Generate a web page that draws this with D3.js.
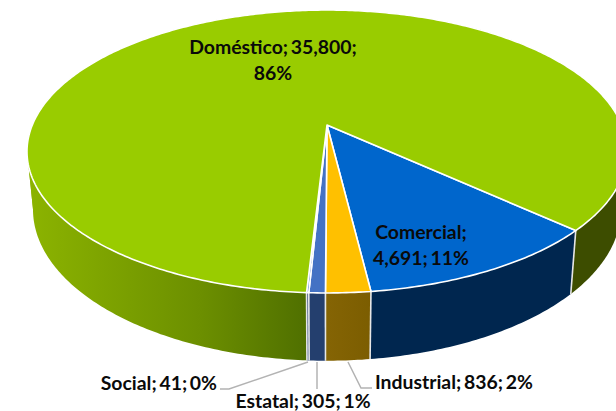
<!DOCTYPE html>
<html><head><meta charset="utf-8">
<script src="https://cdn.jsdelivr.net/npm/d3@7"></script>
<style>html,body{margin:0;padding:0;background:#fff}svg{display:block}text{font-family:Lato,"Noto Sans",sans-serif;font-weight:700;font-size:19.4px;word-spacing:-2px;fill:#0a0a0a}</style>
</head><body><div id="c"></div>
<script>
const categories=["Comercial","Industrial","Estatal","Social","Doméstico"];
const values=[4691,836,305,41,35800];
const percents=["11%","2%","1%","0%","86%"];
const topColors=["#0066cc","#ffc000","#4472c4","#4472c4","#99cc00"];
const W=616,H=411,cx=327,cy=125,A=294.7,B=136.5,k=0.1873,sx=0.98,sy=1.07,drop=56;
const startDeg=132.5;
const svg=d3.select("#c").append("svg").attr("width",W).attr("height",H);
const defs=svg.append("defs");
const rad=d=>d*Math.PI/180;
const pie=d3.pie().sort(null).startAngle(rad(startDeg)).endAngle(rad(startDeg+360));
const arcs=pie(values);
function proj(a){const u=Math.sin(a),v=-Math.cos(a),w=1-k*v;return [cx+A*u/w,cy+B*v/w];}
function low(p){return [cx+sx*(p[0]-cx),cy+sy*(p[1]-cy)+drop];}
const line=d3.line();
function rim(a0,a1){const n=Math.max(2,Math.ceil((a1-a0)*80));return d3.range(n+1).map(i=>proj(a0+(a1-a0)*i/n));}
const wallStops=[
 [["0","#00264f"],["1","#00264f"]],
 [["0","#8a6806"],["1","#7a5c00"]],
 [["0","#243f6e"],["1","#243f6e"]],
 [["0","#243f6e"],["1","#243f6e"]],
 [["0","#8cb400"],["0.294","#6c8f00"],["0.472","#507000"],["0.922","#3d4d00"],["1","#3d4d00"]]
];
wallStops.forEach((st,i)=>{
 const g=defs.append("linearGradient").attr("id","w"+i).attr("gradientUnits","userSpaceOnUse")
  .attr("x1",i===4?27:300).attr("x2",i===4?616:380).attr("y1",0).attr("y2",0);
 st.forEach(x=>g.append("stop").attr("offset",x[0]).attr("stop-color",x[1]));
});
// walls: split each slice where the rim folds (left and right silhouette), so the strip never cancels itself
const folds=[Math.PI-Math.acos(k),Math.PI+Math.acos(k),3*Math.PI-Math.acos(k)];
const wallG=svg.append("g");
arcs.forEach((d,i)=>{
 const cuts=[d.startAngle].concat(folds.filter(f=>f>d.startAngle&&f<d.endAngle),[d.endAngle]);
 d3.pairs(cuts).forEach(([a0,a1])=>{
  const t=rim(a0,a1),b=t.map(low).reverse();
  wallG.append("path").attr("d",line(t.concat(b))+"Z").attr("fill",`url(#w${i})`);
 });
});
// separators between the slices on the wall
arcs.forEach(d=>{
 const p=proj(d.startAngle);
 wallG.append("path").attr("d",line([p,low(p)])).attr("stroke","#e6e6e6").attr("stroke-width",1.6).attr("fill","none");
});
// tops
const topG=svg.append("g");
arcs.forEach((d,i)=>{
 topG.append("path").attr("d",line([[cx,cy]].concat(rim(d.startAngle,d.endAngle)))+"Z").attr("fill",topColors[i]).attr("stroke","#fff").attr("stroke-width",1.6).attr("stroke-linejoin","round");
});
// labels
const labelLines=[
 [`${categories[0]};`,`${d3.format(",")(values[0])}; ${percents[0]}`],
 [`${categories[1]}; ${values[1]}; ${percents[1]}`],
 [`${categories[2]}; ${values[2]}; ${percents[2]}`],
 [`${categories[3]}; ${values[3]}; ${percents[3]}`],
 [`${categories[4]}; ${d3.format(",")(values[4])};`,percents[4]]
];
const labelPos=[[421,239,"middle"],[375,389,"start"],[303,408,"middle"],[217,390,"end"],[273,54,"middle"]];
const leaders=[null,[[348,362],[361,388],[372,388]],[[317,362],[317,389]],[[308,362],[229,389],[220,389]],null];
leaders.forEach(l=>{if(l)svg.append("path").attr("d",line(l)).attr("fill","none").attr("stroke","#b3b3b3").attr("stroke-width",1.5);});
labelLines.forEach((ls,i)=>{
 const t=svg.append("text").attr("x",labelPos[i][0]).attr("y",labelPos[i][1]).attr("text-anchor",labelPos[i][2]);
 ls.forEach((x,j)=>t.append("tspan").attr("x",labelPos[i][0]).attr("dy",j?26:0).text(x));
});
</script></body></html>
